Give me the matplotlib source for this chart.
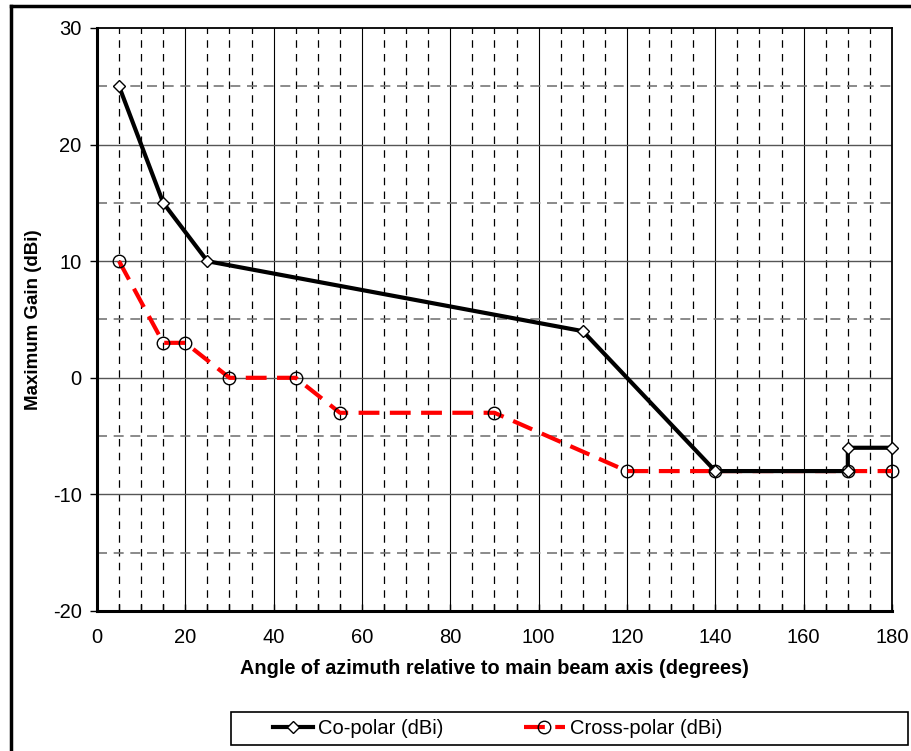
import matplotlib
matplotlib.use("Agg")
import matplotlib.pyplot as plt
from matplotlib.lines import Line2D
from matplotlib.patches import Rectangle

co_x = [5, 15, 25, 110, 140, 170, 170, 180]
co_y = [25, 15, 10, 4, -8, -8, -6, -6]
cross_x = [5, 15, 20, 30, 45, 55, 90, 120, 140, 170, 180]
cross_y = [10, 3, 3, 0, 0, -3, -3, -8, -8, -8, -8]
x_ticks = [0, 20, 40, 60, 80, 100, 120, 140, 160, 180]
y_ticks = [-20, -10, 0, 10, 20, 30]

plt.rcParams['font.family'] = ['Liberation Sans', 'DejaVu Sans']
plt.rcParams['axes.unicode_minus'] = False

fig = plt.figure(figsize=(9.12, 7.51), dpi=100)
ax = fig.add_axes([97/912, 1-611/751, (892-97)/912, (611-28)/751])

# outer frame (left & top)
fig.add_artist(Line2D([11/912, 11/912], [0, 1-6/751], transform=fig.transFigure, color='black', lw=2.5))
fig.add_artist(Line2D([11/912, 1], [1-6/751, 1-6/751], transform=fig.transFigure, color='black', lw=2.5))

ax.set_xlim(0, 180)
ax.set_ylim(-20, 30)
ax.set_xticks(x_ticks)
ax.set_yticks(y_ticks)
ax.set_xticks(range(0, 181, 5), minor=True)
ax.set_yticks(range(-20, 31, 5), minor=True)

# grids
for xv in range(5, 180, 5):
    if xv % 20 == 0:
        ax.axvline(xv, color='black', lw=0.8, zorder=1)
    else:
        ax.axvline(xv, color='black', lw=0.9, ls=(0, (6, 5)), zorder=1)
for yv in range(-15, 30, 5):
    if yv % 10 == 0:
        ax.axhline(yv, color='#555555', lw=1.0, zorder=1)
    else:
        ax.axhline(yv, color='#777777', lw=1.2, ls=(0, (6, 4)), zorder=1)

ax.plot(cross_x, cross_y, color='red', lw=3.0, ls=(0, (5, 2.5)), marker='o', ms=9,
        mfc='none', mec='black', mew=1.0, zorder=3, clip_on=False, label='Cross-polar (dBi)')
ax.plot(co_x, co_y, color='black', lw=3.0, marker='D', ms=6, mfc='white',
        mec='black', mew=1.0, zorder=4, clip_on=False, label='Co-polar (dBi)')

for s in ['left', 'bottom']:
    ax.spines[s].set_linewidth(2.2)
for s in ['top', 'right']:
    ax.spines[s].set_linewidth(1.3)

ax.tick_params(axis='x', which='both', direction='in', length=5, width=1, labelsize=14.5, pad=12)
ax.tick_params(axis='y', which='major', direction='out', length=5, width=1, labelsize=14.5, pad=6)
ax.tick_params(axis='y', which='minor', length=0)

ax.set_xlabel('Angle of azimuth relative to main beam axis (degrees)', fontsize=14.3, fontweight='bold', labelpad=9)
ax.set_ylabel('Maximum Gain (dBi)', fontsize=13.5, fontweight='bold', labelpad=8)

# legend box
fig.add_artist(Rectangle((231/912, 1-745/751), (908-231)/912, 33/751, transform=fig.transFigure,
                         fill=False, edgecolor='black', lw=1.2))
handles, labels = ax.get_legend_handles_labels()
leg = fig.legend(handles[::-1], labels[::-1], loc='center left',
                 bbox_to_anchor=(265/912, 1-729/751),
                 ncol=2, fontsize=14.5, frameon=False, borderaxespad=0,
                 handlelength=2.0, handletextpad=0.25, columnspacing=4.0)

fig.savefig('out.png', dpi=100, facecolor='white')
